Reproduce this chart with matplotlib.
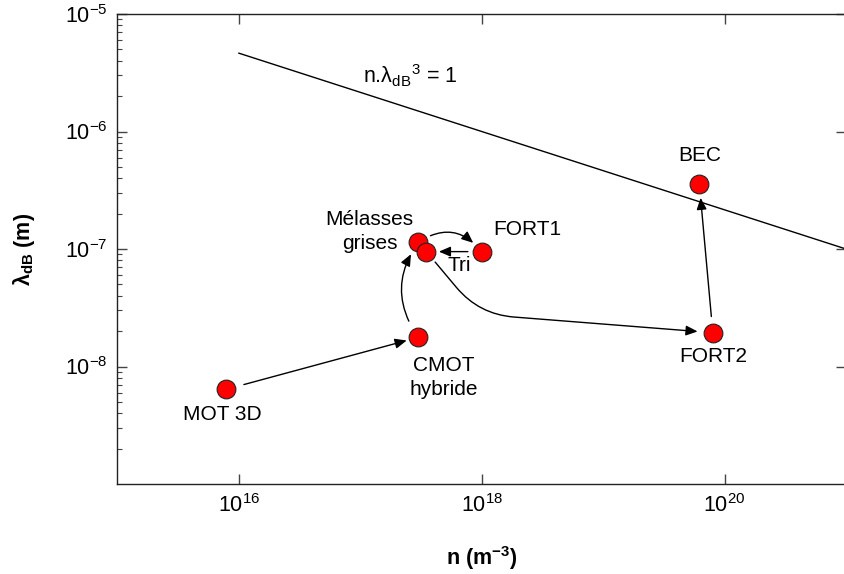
import numpy as np
import matplotlib
matplotlib.use('Agg')
import matplotlib.pyplot as plt

plt.rcParams['font.family'] = ['Liberation Sans', 'DejaVu Sans']
plt.rcParams['mathtext.fontset'] = 'custom'
plt.rcParams['mathtext.rm'] = 'Liberation Sans'
plt.rcParams['mathtext.it'] = 'Liberation Sans:italic'
plt.rcParams['mathtext.bf'] = 'Liberation Sans:bold'
plt.rcParams['axes.unicode_minus'] = False

# experimental stages: density n (m^-3) and de Broglie wavelength (m)
stages = ['MOT 3D', 'CMOT', 'Melasses', 'Tri', 'FORT1', 'FORT2', 'BEC']
n_vals = [7.9e15, 3.0e17, 3.0e17, 3.5e17, 1.0e18, 8.0e19, 6.2e19]
lam_vals = [6.4e-9, 1.77e-8, 1.14e-7, 9.5e-8, 9.5e-8, 1.94e-8, 3.55e-7]

# degeneracy line n.lambda^3 = 1
n_line = [1e16, 1e21]
lam_line = [4.64e-6, 1e-7]

labels = ['MOT 3D', 'CMOT\nhybride', 'Mélasses\ngrises', 'Tri', 'FORT1', 'FORT2', 'BEC']
label_off = [(-3, -18), (18, -29), (-35, 8), (24, -10), (33, 16), (0, -17), (0, 21)]

# transitions between stages (from, to, connection style, shrinkA, shrinkB)
steps = [
    (0, 1, 'arc3,rad=0', 13, 8.6),
    (1, 2, 'arc3,rad=-0.35', 13.5, 10),
    (2, 4, 'arc3,rad=-0.45', 10, 8.8),
    (4, 3, 'arc3,rad=0', 10, 9),
    (3, 5, 'angle,angleA=-50,angleB=-4.5,rad=35', 9.8, 11),
    (5, 6, 'arc3,rad=0', 11.7, 9.7),
]

fig = plt.figure(figsize=(8.45, 5.74), dpi=100)
ax = fig.add_axes([117.5 / 845, 1 - 484 / 574, (846 - 117.5) / 845, (484 - 14) / 574])
ax.set_xscale('log')
ax.set_yscale('log')
ax.set_xlim(1e15, 1e21)
ax.set_ylim(1e-9, 1e-5)

ax.plot(n_line, lam_line, color='black', lw=1)
ax.text(2.6e17, 3.0e-6, 'n.λ$_{\\mathregular{dB}}$$^{\\mathregular{3}}$ = 1', fontsize=15.5,
        ha='center', va='center')

for i, j, cs, sa, sb in steps:
    ax.annotate('', xy=(n_vals[j], lam_vals[j]), xytext=(n_vals[i], lam_vals[i]),
                arrowprops=dict(arrowstyle='-|>,head_length=0.7,head_width=0.3',
                                mutation_scale=10, color='black', lw=1,
                                connectionstyle=cs, shrinkA=sa, shrinkB=sb))

ax.plot(n_vals, lam_vals, 'o', ms=13.5, mfc='#ff0000', mec='#222222', mew=0.8,
        ls='none', zorder=5)

for k in range(len(labels)):
    ax.annotate(labels[k], (n_vals[k], lam_vals[k]), xytext=label_off[k],
                textcoords='offset points', ha='center', va='center',
                fontsize=15, linespacing=1.35)

ax.set_xticks([1e16, 1e18, 1e20])
ax.xaxis.set_minor_locator(matplotlib.ticker.NullLocator())
ax.set_yticks([1e-8, 1e-7, 1e-6, 1e-5])
ax.tick_params(which='major', direction='in', length=7.5, width=1, color='#444444',
               labelsize=15.5, top=True, right=True, pad=7)
ax.tick_params(which='minor', direction='in', length=3.5, width=0.8, color='#444444',
               right=False, top=False)
for s in ax.spines.values():
    s.set_linewidth(1)
    s.set_color('#222222')

ax.set_xlabel('n (m$^{\\mathbf{-3}}$)', fontsize=15.5, fontweight='bold', labelpad=20)
ax.set_ylabel('λ$_{\\mathbf{dB}}$ (m)', fontsize=15.5, fontweight='bold', labelpad=20)

fig.savefig('out.png', dpi=100)
